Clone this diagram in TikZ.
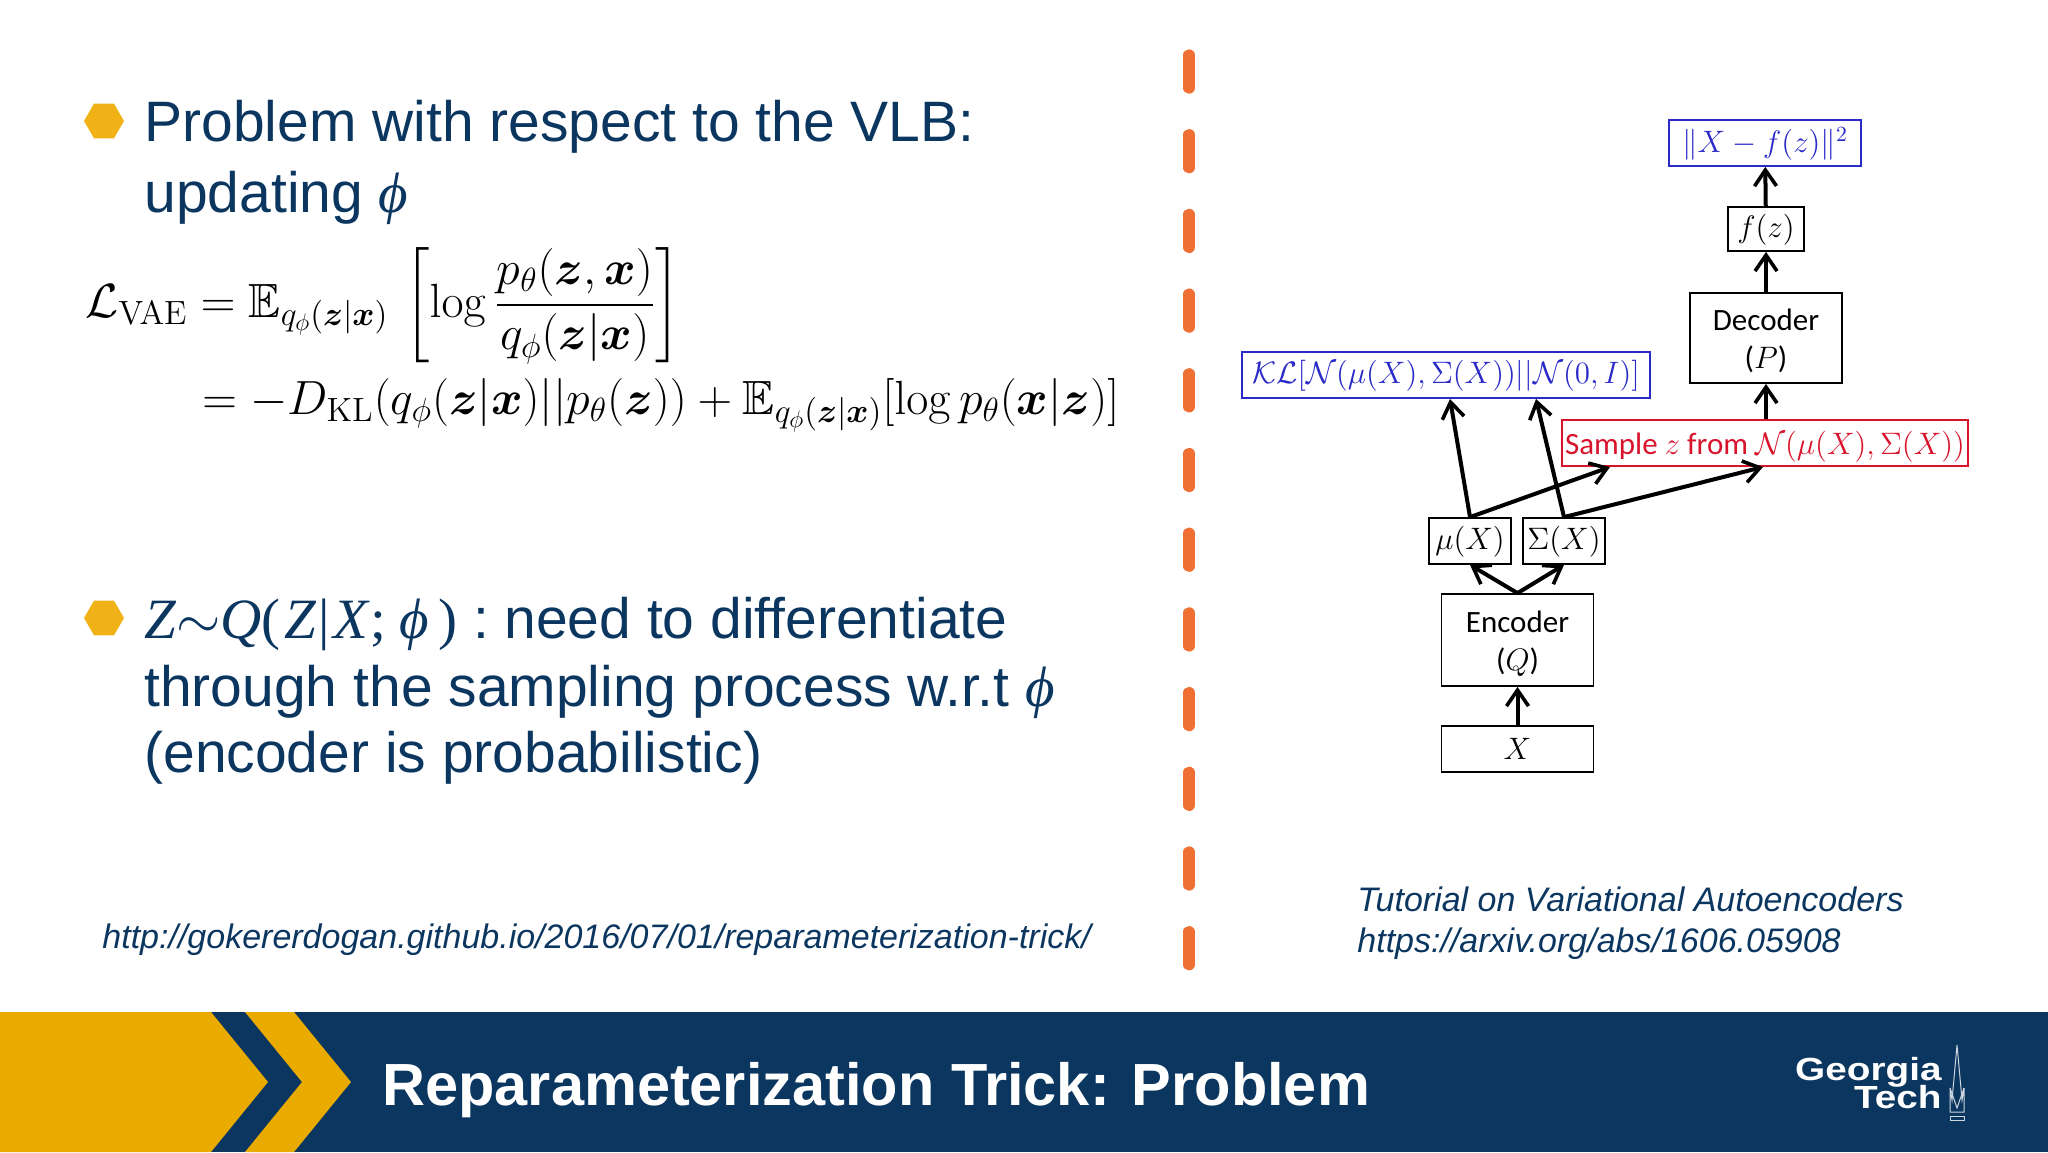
\documentclass[tikz,border=0pt]{standalone}
\usepackage{fix-cm}
\usepackage{amsmath,amssymb,bm}
\usepackage[no-math]{fontspec}
\newfontfamily\liberation{Liberation Sans}
\newfontfamily\carlito{Carlito}
\newfontfamily\liberationserif{Liberation Serif}
\usetikzlibrary{arrows.meta,positioning,shapes.geometric}
\definecolor{gtnavy}{HTML}{0B3660}
\definecolor{gtgold}{HTML}{EAAB00}
\definecolor{hexgold}{HTML}{F0B216}
\definecolor{dashorange}{HTML}{F07034}
\definecolor{boxblue}{HTML}{2A2AC8}
\definecolor{boxred}{HTML}{D8142C}
\newcommand{\gtphi}{{\liberationserif\itshape ϕ}}
\newcommand{\gtit}[1]{{\liberationserif\itshape #1}}
\newcommand{\gtrm}[1]{{\liberationserif #1}}
\tikzset{
  bodytext/.style={anchor=base west,inner sep=0pt,text=gtnavy,font=\liberation\fontsize{28.5}{30}\selectfont},
  urltext/.style={anchor=base west,inner sep=0pt,text=gtnavy,font=\liberation\itshape\fontsize{17}{20}\selectfont},
  eqntext/.style={anchor=base west,inner sep=0pt,font=\fontsize{24}{28}\selectfont},
  bullethex/.style={regular polygon,regular polygon sides=6,fill=hexgold,inner sep=0pt,minimum size=20pt},
  flowbox/.style={draw,line width=0.9pt,inner sep=0pt,align=center,font=\carlito\fontsize{15.5}{19}\selectfont},
  logotext/.style={anchor=base east,inner sep=0pt,text=white,xscale=1.21,font=\liberation\bfseries\fontsize{16}{18}\selectfont},
  flowarrow/.style={line width=2pt,-{Straight Barb[length=8pt,width=11pt,line width=1.8pt]}}
}
\begin{document}
\begin{tikzpicture}[x=0.5pt,y=-0.5pt]
\useasboundingbox (0,0) rectangle (2048,1152);
% left column
\node[bullethex] (hexa) at (104,121) {};
\node[bodytext] (linea) at (144,141) {Problem with respect to the VLB:};
\node[bodytext] (lineb) at (144,212) {updating \gtphi};
\node[eqntext] (eqna) at (85,317) {$\mathcal{L}_{\mathrm{VAE}} = \mathbb{E}_{q_\phi(\bm{z}|\bm{x})}\,\left[\log\dfrac{p_\theta(\bm{z},\bm{x})}{q_\phi(\bm{z}|\bm{x})}\right]$};
\node[eqntext] (eqnb) at (202,414) {$= -D_{\mathrm{KL}}(q_\phi(\bm{z}|\bm{x})||p_\theta(\bm{z}))+\mathbb{E}_{q_\phi(\bm{z}|\bm{x})}[\log p_\theta(\bm{x}|\bm{z})]$};
\node[bullethex] (hexb) at (104,618) {};
\node[bodytext] (linec) at (144,638) {\gtit{Z}$\sim$\gtit{Q}\gtrm{(}\hspace{2pt}\gtit{Z}\hspace{1pt}\gtrm{|}\hspace{2pt}\gtit{X}\hspace{1pt}\gtrm{;}\hspace{6.5pt}\gtphi\hspace{5pt}\gtrm{)}\hspace{0pt} :\hspace{7.5pt}need to differentiate};
\node[bodytext] (lined) at (144,706) {through the sampling process w.r.t \gtphi};
\node[bodytext] (linee) at (144,772) {(encoder is probabilistic)};
\node[urltext] (urla) at (102,948) {http://gokererdogan.github.io/2016/07/01/reparameterization-trick/};
% divider
\foreach \y in {0,...,11}
  \draw[dashorange,line width=5.7pt,line cap=round] (1189,{55+79.7*\y}) -- (1189,{88+79.7*\y});
% right column
\node[flowbox,text=boxblue,draw=boxblue,minimum width=96pt,minimum height=23pt] (loss) at (1765,143) {\rule{0pt}{13.5pt}$\|X-f(z)\|^2$};
\node[flowbox,minimum width=38pt,minimum height=22pt] (fz) at (1766,229) {\rule{0pt}{12.5pt}$f(z)$};
\node[flowbox,minimum width=76pt,minimum height=45pt] (decoder) at (1766,338) {\rule{0pt}{13.5pt}Decoder\\($P$)};
\node[flowbox,text=boxred,draw=boxred,minimum width=203pt,minimum height=23pt] (sample) at (1765,443) {\rule{0pt}{15.5pt}Sample $z$ from $\mathcal{N}(\mu(X),\Sigma(X))$};
\node[flowbox,text=boxblue,draw=boxblue,minimum width=204pt,minimum height=23pt] (kl) at (1446,375) {\rule{0pt}{12.5pt}$\mathcal{KL}[\mathcal{N}(\mu(X),\Sigma(X))||\mathcal{N}(0,I)]$};
\node[flowbox,minimum width=41pt,minimum height=23pt] (mu) at (1470,541) {\rule{0pt}{12.5pt}$\mu(X)$};
\node[flowbox,minimum width=41pt,minimum height=23pt] (sigma) at (1564,541) {\rule{0pt}{12.5pt}$\Sigma(X)$};
\node[flowbox,minimum width=76pt,minimum height=46pt] (encoder) at (1517.5,640) {\rule{0pt}{14.5pt}Encoder\\($Q$)};
\node[flowbox,minimum width=76pt,minimum height=23pt] (input) at (1517.5,749) {$X$};
\coordinate (kla) at (1450,399);
\coordinate (klb) at (1536,399);
\coordinate (samplea) at (1610,467);
\coordinate (sampleb) at (1763,467);
\draw[flowarrow] (input) -- (encoder);
\draw[flowarrow] (encoder.north) -- (mu.south);
\draw[flowarrow] (encoder.north) -- (sigma.south);
\draw[flowarrow] (mu.north) -- (kla);
\draw[flowarrow] (sigma.north) -- (klb);
\draw[flowarrow] (mu.north) -- (samplea);
\draw[flowarrow] (sigma.north) -- (sampleb);
\draw[flowarrow] (sample.north -| decoder) -- (decoder);
\draw[flowarrow] (decoder) -- (fz);
\draw[flowarrow] (fz) -- (loss);
\node[urltext] (cita) at (1357,911) {Tutorial on Variational Autoencoders};
\node[urltext] (citb) at (1357,952) {https://arxiv.org/abs/1606.05908};
% banner
\fill[gtnavy] (0,1012) rectangle (2048,1152);
\fill[gtgold] (0,1012) -- (211,1012) -- (268,1082) -- (211,1152) -- (0,1152) -- cycle;
\fill[gtgold] (245,1012) -- (294,1012) -- (351,1082) -- (294,1152) -- (245,1152) -- (302,1082) -- cycle;
\node[anchor=base west,inner sep=0pt,text=white,font=\liberation\bfseries\fontsize{29.75}{32}\selectfont] (title) at (382,1105) {Reparameterization Trick: Problem};
\node[logotext] (logoa) at (1942,1080) {Georgia};
\node[logotext] (logob) at (1942,1108) {Tech};
\draw[white!80!gtnavy,line width=0.5pt] (1957,1045) -- (1952,1100) -- (1950,1088) -- (1950,1112) -- (1964,1112) -- (1964,1088) -- (1962,1100) -- cycle;
\draw[white!80!gtnavy,line width=0.5pt] (1950,1088) -- (1957,1108) -- (1964,1088);
\draw[white!80!gtnavy,line width=0.5pt] (1950,1116) rectangle (1964,1120);
\end{tikzpicture}
\end{document}
